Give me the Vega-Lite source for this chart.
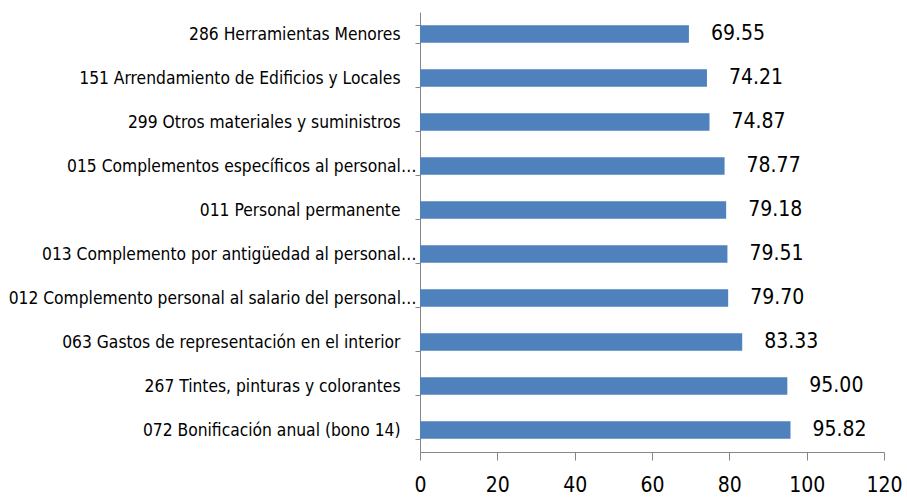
{
  "$schema": "https://vega.github.io/schema/vega-lite/v6.json",
  "autosize": "none",
  "width": 464,
  "height": 440,
  "padding": {"left": 420, "top": 12, "right": 23, "bottom": 45},
  "background": "white",
  "config": {"view": {"stroke": null}, "font": "DejaVu Sans Condensed, Liberation Sans, sans-serif"},
  "data": {
    "values": [
      {"item": "286 Herramientas Menores", "value": 69.55},
      {"item": "151 Arrendamiento de Edificios y Locales", "value": 74.21},
      {"item": "299 Otros materiales y suministros", "value": 74.87},
      {"item": "015 Complementos específicos al personal…", "value": 78.77},
      {"item": "011 Personal permanente", "value": 79.18},
      {"item": "013 Complemento por antigüedad al personal…", "value": 79.51},
      {"item": "012 Complemento personal al salario del personal…", "value": 79.70},
      {"item": "063 Gastos de representación en el interior", "value": 83.33},
      {"item": "267 Tintes, pinturas y colorantes", "value": 95.00},
      {"item": "072 Bonificación anual (bono 14)", "value": 95.82}
    ]
  },
  "encoding": {
    "y": {
      "field": "item",
      "type": "nominal",
      "sort": null,
      "title": null,
      "scale": {"paddingInner": 0.6, "paddingOuter": 0.3},
      "axis": {
        "domainColor": "#868686",
        "domainWidth": 1,
        "tickColor": "#868686",
        "tickSize": 5,
        "tickBand": "extent",
        "labelFont": "DejaVu Sans Condensed, Liberation Sans, sans-serif",
        "labelFontSize": 17.3,
        "labelColor": "#000000",
        "labelPadding": {"condition": {"test": "indexof(datum.label, '…') >= 0", "value": -1}, "value": 15},
        "labelLimit": 440
      }
    },
    "x": {
      "field": "value",
      "type": "quantitative",
      "title": null,
      "scale": {"domain": [0, 120], "nice": false},
      "axis": {
        "values": [0, 20, 40, 60, 80, 100, 120],
        "grid": false,
        "domainColor": "#868686",
        "tickColor": "#868686",
        "tickSize": 8,
        "labelFont": "DejaVu Sans Condensed, Liberation Sans, sans-serif",
        "labelFontSize": 21,
        "labelColor": "#000000",
        "labelPadding": 14,
        "labelFlush": false
      }
    }
  },
  "layer": [
    {"mark": {"type": "bar", "color": "#4F81BD"}},
    {
      "mark": {"type": "text", "align": "left", "baseline": "middle", "dx": 22, "fontSize": 21, "font": "DejaVu Sans Condensed, Liberation Sans, sans-serif", "color": "#000000"},
      "encoding": {"text": {"field": "value", "type": "quantitative", "format": ".2f"}}
    }
  ]
}
